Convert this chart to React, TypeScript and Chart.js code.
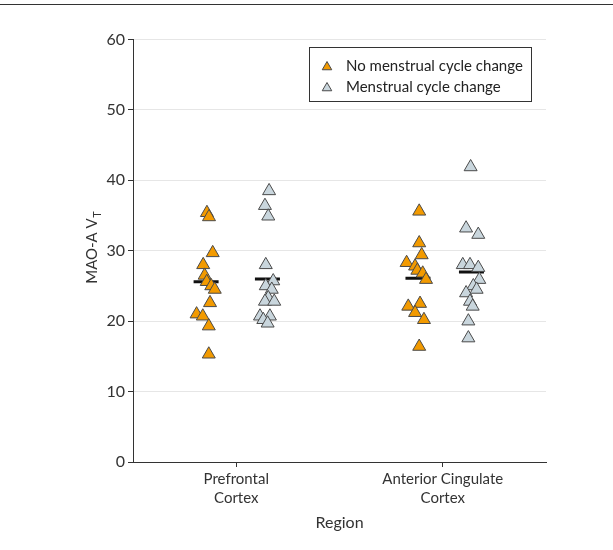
import React, { useEffect, useRef } from "react";
import { Chart, registerables } from "chart.js";

Chart.register(...registerables);

// ---- data ----
const regionLabels = [["Prefrontal", "Cortex"], ["Anterior Cingulate", "Cortex"]];
const seriesNames = ["No menstrual cycle change", "Menstrual cycle change"];

const noChangePFC = [35.4, 34.8, 29.7, 28.0, 26.5, 25.6, 25.0, 24.5, 22.6, 21.0, 20.7, 19.3, 15.3];
const noChangePFCJitter = [-0.142, -0.132, -0.114, -0.16, -0.153, -0.143, -0.121, -0.104, -0.127, -0.192, -0.162, -0.133, -0.133];
const changePFC = [38.5, 36.4, 34.9, 28.0, 25.7, 25.0, 24.5, 23.3, 22.8, 22.8, 20.7, 20.7, 20.2, 19.7];
const changePFCJitter = [0.159, 0.139, 0.155, 0.143, 0.179, 0.143, 0.172, 0.155, 0.139, 0.184, 0.115, 0.163, 0.131, 0.152];

const noChangeACC = [35.6, 31.1, 29.4, 28.3, 27.8, 27.2, 26.8, 25.9, 22.1, 22.5, 21.2, 20.2, 16.4];
const noChangeACCJitter = [-0.114, -0.114, -0.102, -0.175, -0.134, -0.123, -0.097, -0.081, -0.167, -0.11, -0.134, -0.091, -0.114];
const changeACC = [41.9, 33.2, 32.3, 28.0, 28.0, 27.6, 25.9, 25.0, 24.5, 24.0, 22.8, 22.1, 20.0, 17.6];
const changeACCJitter = [0.135, 0.113, 0.172, 0.097, 0.132, 0.172, 0.177, 0.148, 0.164, 0.113, 0.132, 0.145, 0.124, 0.124];

const noChangeCentral = [25.6, 26.1];
const noChangeCentralOffset = [-0.146, -0.12];
const changeCentral = [26.0, 27.0];
const changeCentralOffset = [0.151, 0.139];

const yTicks = [0, 10, 20, 30, 40, 50, 60];
const yTitleMain = "MAO-A V";
const yTitleSub = "T";
const xTitle = "Region";

// ---- styles ----
const FONT = "Lato";
const ORANGE = "#F29A00";
const GREY = "#C9D6DD";
const EDGE = "#4a4a4a";
const TEXT = "#333333";

function pts(values: number[], jitter: number[], region: number) {
  return values.map((v, i) => ({ x: region + jitter[i], y: v }));
}

function triangle(ctx: CanvasRenderingContext2D, x: number, y: number, r: number, fill: string) {
  ctx.beginPath();
  for (let k = 0; k < 3; k++) {
    const a = (k * 2 * Math.PI) / 3;
    const px = x + Math.sin(a) * r;
    const py = y - Math.cos(a) * r;
    if (k === 0) ctx.moveTo(px, py);
    else ctx.lineTo(px, py);
  }
  ctx.closePath();
  ctx.fillStyle = fill;
  ctx.fill();
  ctx.lineWidth = 1;
  ctx.strokeStyle = EDGE;
  ctx.stroke();
}

const overlayPlugin = {
  id: "overlay",
  afterDraw(chart: any) {
    const ctx: CanvasRenderingContext2D = chart.ctx;
    const area = chart.chartArea;
    ctx.save();
    // legend box
    const bx = 309.5, by = 47.5, bw = 222, bh = 54;
    ctx.fillStyle = "#ffffff";
    ctx.fillRect(bx, by, bw, bh);
    ctx.lineWidth = 1;
    ctx.strokeStyle = "#333333";
    ctx.strokeRect(bx, by, bw, bh);
    const fills = [ORANGE, GREY];
    const rowsY = [66, 87];
    ctx.font = `15px ${FONT}`;
    ctx.textBaseline = "middle";
    ctx.textAlign = "left";
    seriesNames.forEach((name, i) => {
      triangle(ctx, 327, rowsY[i] + 1, 5.5, fills[i]);
      ctx.fillStyle = "#222222";
      ctx.fillText(name, 346, rowsY[i]);
    });
    // y axis title with subscript
    const cy = (area.top + area.bottom) / 2 - 3;
    ctx.translate(92, cy);
    ctx.rotate(-Math.PI / 2);
    ctx.font = `15px ${FONT}`;
    const w1 = ctx.measureText(yTitleMain).width;
    ctx.font = `11px ${FONT}`;
    const w2 = ctx.measureText(yTitleSub).width;
    const start = -(w1 + w2) / 2;
    ctx.fillStyle = TEXT;
    ctx.font = `15px ${FONT}`;
    ctx.fillText(yTitleMain, start, 0);
    ctx.font = `11px ${FONT}`;
    ctx.fillText(yTitleSub, start + w1 + 0.5, 5);
    ctx.restore();
  },
};

export default function App() {
  const ref = useRef<HTMLCanvasElement>(null);
  useEffect(() => {
    if (!ref.current) return;
    const chart = new Chart(ref.current, {
      type: "scatter",
      data: {
        datasets: [
          {
            label: seriesNames[0],
            data: [...pts(noChangePFC, noChangePFCJitter, 0), ...pts(noChangeACC, noChangeACCJitter, 1)],
            pointStyle: "triangle",
            pointRadius: 7.5,
            backgroundColor: ORANGE,
            borderColor: EDGE,
            borderWidth: 1,
          },
          {
            label: seriesNames[1],
            data: [...pts(changePFC, changePFCJitter, 0), ...pts(changeACC, changeACCJitter, 1)],
            pointStyle: "triangle",
            pointRadius: 7.5,
            backgroundColor: GREY,
            borderColor: EDGE,
            borderWidth: 1,
          },
          {
            label: "central",
            data: [
              ...noChangeCentral.map((v, i) => ({ x: i + noChangeCentralOffset[i], y: v })),
              ...changeCentral.map((v, i) => ({ x: i + changeCentralOffset[i], y: v })),
            ],
            pointStyle: "line",
            pointRadius: 12.5,
            borderColor: "#111111",
            borderWidth: 3,
          },
        ],
      },
      options: {
        animation: false,
        responsive: false,
        layout: { padding: { left: 0, right: 67, top: 39.5, bottom: 0 } },
        plugins: { legend: { display: false }, tooltip: { enabled: false } },
        scales: {
          x: {
            type: "linear",
            min: -0.5,
            max: 1.5,
            afterBuildTicks: (axis: any) => {
              axis.ticks = regionLabels.map((_, i) => ({ value: i }));
            },
            afterFit: (axis: any) => {
              axis.height = 88;
            },
            ticks: {
              autoSkip: false,
              maxRotation: 0,
              padding: 3,
              color: TEXT,
              font: { family: FONT, size: 15, lineHeight: 1.25 },
              callback: (v: any) => regionLabels[Math.round(Number(v))] ?? "",
            },
            grid: { drawOnChartArea: false, tickLength: 5, tickColor: "#333333" },
            border: { color: "#333333", width: 1 },
            title: {
              display: true,
              text: xTitle,
              color: TEXT,
              font: { family: FONT, size: 16, lineHeight: 1.2 },
              padding: { top: 0, bottom: 17.7 },
            },
          },
          y: {
            min: 0,
            max: 60,
            afterBuildTicks: (axis: any) => {
              axis.ticks = yTicks.map((v) => ({ value: v }));
            },
            afterFit: (axis: any) => {
              axis.width = 133;
            },
            ticks: {
              padding: 3,
              color: TEXT,
              font: { family: FONT, size: 16 },
            },
            grid: { color: "#e6e6e6", tickLength: 5, tickColor: "#333333" },
            border: { color: "#333333", width: 1 },
          },
        },
      },
      plugins: [overlayPlugin],
    });
    return () => chart.destroy();
  }, []);

  return (
    <div style={{ position: "absolute", left: 0, top: 0, width: 613, height: 550, background: "#fff" }}>
      <div style={{ position: "absolute", left: 0, top: 4, width: 613, height: 0, borderTop: "1px solid #333" }} />
      <canvas ref={ref} width={613} height={550} style={{ position: "absolute", left: 0, top: 0 }} />
    </div>
  );
}
